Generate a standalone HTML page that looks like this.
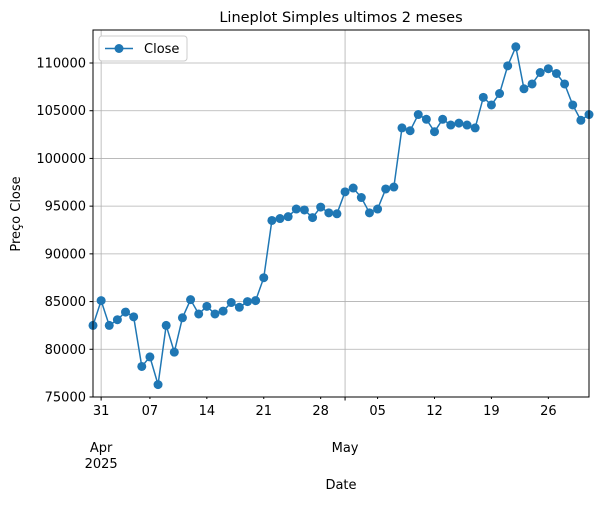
<!DOCTYPE html>
<html><head><meta charset="utf-8"><style>
body{margin:0;background:#fff;font-family:"Liberation Sans","DejaVu Sans",sans-serif}
svg text{font-family:"DejaVu Sans","Liberation Sans",sans-serif;fill:#000}
</style></head><body>
<svg id="chart" width="598" height="501" xmlns="http://www.w3.org/2000/svg">
<text x="341" y="22" font-size="14.5" text-anchor="middle">Lineplot Simples ultimos 2 meses</text>
<g id="grid"></g><g id="axes"></g><g id="series"></g>
<rect x="93" y="30" width="496" height="367" fill="none" stroke="#000" stroke-width="1"/>
<text transform="translate(20,214) rotate(-90)" font-size="13" text-anchor="middle">Preço Close</text>
<text x="341" y="489" font-size="13" text-anchor="middle">Date</text>
<g>
<rect x="99" y="36" width="88" height="25" rx="3" fill="#fff" stroke="#ccc"/>
<line x1="105" y1="48.5" x2="133" y2="48.5" stroke="#1f77b4" stroke-width="1.5"/>
<circle cx="119" cy="48.5" r="4.5" fill="#1f77b4"/>
<text x="144" y="53" font-size="13">Close</text>
</g>
</svg>
<script>
const values = [82500,85100,82500,83100,83900,83400,78200,79200,76300,82500,79700,83300,85200,83700,84500,83700,84000,84900,84400,85000,85100,87500,93500,93700,93900,94700,94600,93800,94900,94300,94200,96500,96900,95900,94300,94700,96800,97000,103200,102900,104600,104100,102800,104100,103500,103700,103500,103200,106400,105600,106800,109700,111700,107300,107800,109000,109400,108900,107800,105600,104000,104600];
const yTicks = [75000,80000,85000,90000,95000,100000,105000,110000];
const minorLabels = ["07","14","21","28","05","12","19","26"];
const minorDays = [7,14,21,28,35,42,49,56];
const majorDays = [1,31];
const NS="http://www.w3.org/2000/svg";
const L=93,R=589,T=30,B=397;
const n=values.length;
const x=i=>L+(R-L)*i/(n-1);
function yy(v){return 397-(v-75000)/35000*(397-63);}
function mk(tag,attrs,parent){const e=document.createElementNS(NS,tag);for(const k in attrs)e.setAttribute(k,attrs[k]);parent.appendChild(e);return e;}
const grid=document.getElementById('grid'),axes=document.getElementById('axes'),series=document.getElementById('series');
yTicks.forEach(v=>{const py=yy(v);
 const g=mk('line',{x1:L,x2:R,y1:py,y2:py,stroke:'#b0b0b0','stroke-width':0.8},grid);
 
 
 mk('line',{x1:L-3.5,x2:L,y1:py,y2:py,stroke:'#000'},axes);
 const t=mk('text',{x:L-7,y:py+4.5,'font-size':13,'text-anchor':'end'},axes);t.textContent=v;
 
 
});
majorDays.forEach(d=>{const px=x(d);
 const g=mk('line',{x1:px,x2:px,y1:T,y2:B,stroke:'#b0b0b0','stroke-width':0.8},grid);
 
 
 mk('line',{x1:px,x2:px,y1:B,y2:B+3.5,stroke:'#000'},axes);
});
const ml=[[["31",B+18],["Apr",B+55],["2025",B+71]],[["May",B+55]]];
majorDays.forEach((d,j)=>{const px=x(d);
 ml[j].forEach(s=>{const t=mk('text',{x:px,y:s[1],'font-size':13,'text-anchor':'middle'},axes);t.textContent=s[0];
 
 });
});
minorDays.forEach((d,j)=>{const px=x(d);
 mk('line',{x1:px,x2:px,y1:B,y2:B+2,stroke:'#000'},axes);
 const t=mk('text',{x:px,y:B+18,'font-size':13,'text-anchor':'middle'},axes);t.textContent=minorLabels[j];
 
 
});
const line=mk('polyline',{points:values.map((v,i)=>x(i)+','+yy(v)).join(' '),fill:'none',stroke:'#1f77b4','stroke-width':1.5},series);


values.forEach((v,i)=>{const c=mk('circle',{cx:x(i),cy:yy(v),r:4.5,fill:'#1f77b4'},series);
 
 });
</script>
</body></html>
